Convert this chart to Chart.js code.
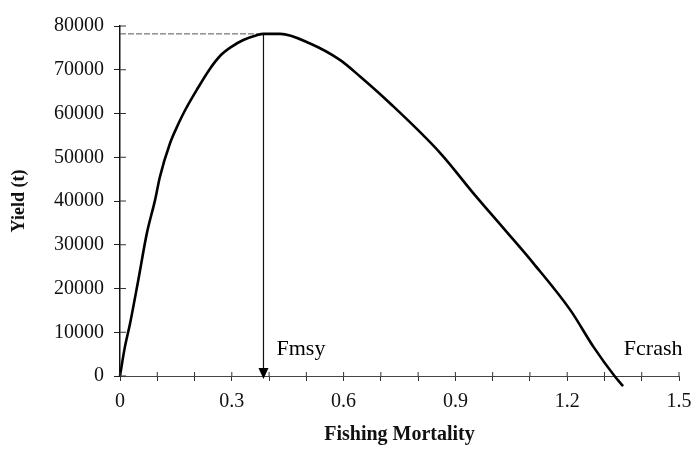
<!DOCTYPE html>
<html>
<head>
<meta charset="utf-8">
<script src="https://cdn.jsdelivr.net/npm/chart.js@4.4.0/dist/chart.umd.min.js"></script>
<style>
    html, body { margin: 0; padding: 0; background: #fff; }
    #wrap { width: 692px; height: 453px; position: relative; }
</style>
</head>
<body>
<div id="wrap"><canvas id="yieldChart"></canvas></div>
<script>
// yield curve
const fishingMortality = [0, 0.013, 0.027, 0.049, 0.072, 0.094, 0.107, 0.134, 0.157, 0.175, 0.206, 0.242, 0.269, 0.3, 0.331, 0.367, 0.385, 0.43, 0.51, 0.591, 0.645, 0.725, 0.86, 0.949, 1.034, 1.11, 1.209, 1.271, 1.327, 1.35];
const yieldTonnes = [0, 6600, 12000, 21900, 32600, 40200, 45500, 53150, 57700, 60800, 65400, 70300, 73200, 75300, 76800, 77900, 78200, 78200, 76000, 72200, 68400, 62300, 50900, 41700, 33300, 25700, 15000, 6600, 0, -2300];

const fmsy = 0.385;
const msy = 78200;

const xTickValues = [0, 0.3, 0.6, 0.9, 1.2, 1.5];
const xTickLabels = ['0', '0.3', '0.6', '0.9', '1.2', '1.5'];
const yTickLabels = ['0', '10000', '20000', '30000', '40000', '50000', '60000', '70000', '80000'];

const refLabels = [
    { text: 'Fmsy', x: 0.42, y: 4800 },
    { text: 'Fcrash', x: 1.352, y: 4800 }
];

const serif = "'Liberation Serif', 'Times New Roman', serif";

const curve = fishingMortality.map((f, i) => ({ x: f, y: yieldTonnes[i] }));

// inner half of the axis ticks, arrow head and the F labels
const extras = {
    id: 'extras',
    afterDraw(chart) {
        const ctx = chart.ctx;
        const xs = chart.scales.x, ys = chart.scales.y;
        const area = chart.chartArea;
        ctx.save();
        ctx.strokeStyle = '#333';
        ctx.lineWidth = 1;
        xs.ticks.forEach((t, i) => {
            const px = xs.getPixelForTick(i);
            ctx.beginPath();
            ctx.moveTo(px, area.bottom);
            ctx.lineTo(px, area.bottom - 4);
            ctx.stroke();
        });
        ys.ticks.forEach((t, i) => {
            const py = ys.getPixelForTick(i);
            ctx.beginPath();
            ctx.moveTo(area.left, py);
            ctx.lineTo(area.left + 6, py);
            ctx.stroke();
        });

        // arrow head on the Fmsy line
        const ax = xs.getPixelForValue(fmsy);
        const ay = ys.getPixelForValue(0) + 3;
        ctx.fillStyle = '#000';
        ctx.beginPath();
        ctx.moveTo(ax, ay);
        ctx.lineTo(ax - 5, ay - 11);
        ctx.lineTo(ax + 5, ay - 11);
        ctx.closePath();
        ctx.fill();

        ctx.font = '22px ' + serif;
        ctx.textAlign = 'left';
        ctx.textBaseline = 'alphabetic';
        refLabels.forEach(l => {
            ctx.fillText(l.text, xs.getPixelForValue(l.x), ys.getPixelForValue(l.y));
        });
        ctx.restore();
    }
};

const ctx = document.getElementById('yieldChart').getContext('2d');

const chart = new Chart(ctx, {
    type: 'scatter',
    data: {
        datasets: [{
            label: 'Yield',
            data: curve,
            showLine: true,
            borderColor: '#000',
            borderWidth: 2.6,
            pointRadius: 0,
            cubicInterpolationMode: 'monotone',
            clip: false
        }, {
            label: 'MSY',
            data: [{ x: 0, y: msy }, { x: fmsy, y: msy }],
            showLine: true,
            borderColor: '#555',
            borderWidth: 1,
            borderDash: [6, 2],
            pointRadius: 0
        }, {
            label: 'Fmsy',
            data: [{ x: fmsy, y: msy }, { x: fmsy, y: 0 }],
            showLine: true,
            borderColor: '#111',
            borderWidth: 1.2,
            pointRadius: 0,
            clip: false
        }]
    },
    options: {
        responsive: true,
        maintainAspectRatio: false,
        animation: false,
        layout: {
            padding: { top: 26, right: 13, left: 0, bottom: 0 }
        },
        scales: {
            x: {
                type: 'linear',
                min: 0,
                max: 1.5,
                afterFit: function(scale) {
                    scale.height = 77;
                    scale.paddingLeft = 0;
                    scale.paddingRight = 0;
                },
                ticks: {
                    stepSize: 0.1,
                    autoSkip: false,
                    maxRotation: 0,
                    padding: 9,
                    color: '#111',
                    font: { family: serif, size: 20 },
                    callback: function(value) {
                        const i = xTickValues.findIndex(v => Math.abs(v - value) < 1e-6);
                        return i >= 0 ? xTickLabels[i] : '';
                    }
                },
                grid: {
                    display: true,
                    drawOnChartArea: false,
                    drawTicks: true,
                    tickLength: 5,
                    color: '#333'
                },
                border: { display: true, color: '#444', width: 1, dash: [7, 2] },
                title: {
                    display: true,
                    text: 'Fishing Mortality',
                    color: '#111',
                    font: { family: serif, size: 20, weight: 'bold' },
                    padding: { top: 0, bottom: 6 }
                }
            },
            y: {
                min: 0,
                max: 80000,
                afterFit: function(scale) { scale.width = 120; },
                ticks: {
                    stepSize: 10000,
                    padding: 10,
                    color: '#111',
                    font: { family: serif, size: 20 },
                    callback: function(value) {
                        return yTickLabels[Math.round(value / 10000)];
                    }
                },
                grid: {
                    display: true,
                    drawOnChartArea: false,
                    drawTicks: true,
                    tickLength: 6,
                    color: '#222'
                },
                border: { display: true, color: '#111', width: 1.5 },
                title: {
                    display: true,
                    text: 'Yield (t)',
                    color: '#111',
                    font: { family: serif, size: 18, weight: 'bold' },
                    padding: { top: 9, bottom: 0 }
                }
            }
        },
        plugins: {
            legend: { display: false },
            tooltip: { enabled: false }
        }
    },
    plugins: [extras]
});
</script>
</body>
</html>
